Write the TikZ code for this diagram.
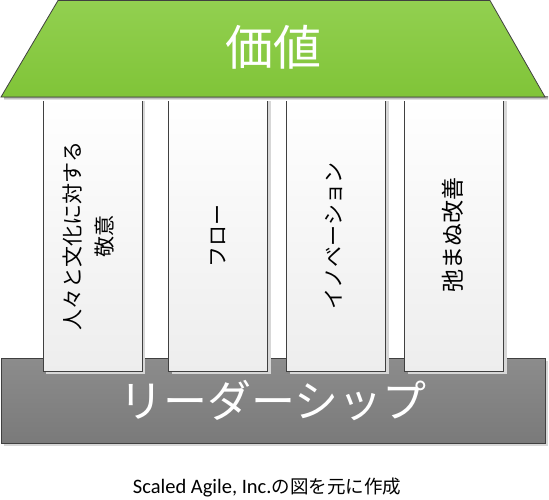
\documentclass[tikz,border=0pt]{standalone}
\usepackage{fontspec}
\setmainfont{Carlito}
\newfontfamily\jp{Noto Sans CJK JP}
\usetikzlibrary{shadows}
\definecolor{roofTop}{RGB}{146,208,80}
\definecolor{roofBot}{RGB}{128,196,56}
\definecolor{edge}{RGB}{64,64,64}
\definecolor{baseTop}{RGB}{140,140,140}
\definecolor{baseBot}{RGB}{122,122,122}
\definecolor{shade}{RGB}{215,215,215}
\tikzset{
  myshadow/.style={drop shadow={shadow xshift=3pt, shadow yshift=-3pt, fill=shade, opacity=1}},
  pillar/.style={draw=edge, line width=0.8pt, minimum width=99pt, minimum height=276pt,
    inner sep=0pt, top color=white, bottom color=black!7, myshadow},
  pillartext/.style={rotate=90, font=\jp\fontsize{21}{32}\selectfont, align=center, text=black},
  basebox/.style={draw=edge, line width=0.8pt, minimum width=544pt, minimum height=85pt,
    inner sep=0pt, top color=baseTop, bottom color=baseBot, myshadow,
    font=\jp\fontsize{44}{44}\selectfont, text=white},
}
\begin{document}
\begin{tikzpicture}[x=1pt,y=-1pt]
\useasboundingbox (0,0) rectangle (549,499);
% base
\node[basebox] (base) at (273,400.5) {リーダーシップ};
% pillars
\node[pillar] (p1) at (92.5,233) {};
\node[pillar] (p2) at (218,233) {};
\node[pillar] (p3) at (336,233) {};
\node[pillar] (p4) at (454,233) {};
\node[pillartext] (t1) at (89,236) {人々と文化に対する\\敬意};
\node[pillartext] (t2) at (218,236) {フロー};
\node[pillartext] (t3) at (334,236) {イノベーション};
\node[pillartext, font=\jp\fontsize{23}{32}\selectfont] (t4) at (453,235) {弛まぬ改善};
% roof shadow
\fill[shade] (4,96) rectangle (548,100);
% roof
\path[draw=edge, line width=0.8pt, top color=roofTop, bottom color=roofBot]
  (58,0.5) -- (490,0.5) -- (545,97) -- (1,97) -- cycle;
\node[font=\jp\fontsize{48}{48}\selectfont, text=white] (value) at (273,47) {価値};
% caption
\node[font=\fontsize{20.5}{22}\selectfont] (cap) at (267,487) {Scaled Agile, Inc.{\jp\fontsize{18.5}{22}\selectfont の図を元に作成}};
\end{tikzpicture}
\end{document}
